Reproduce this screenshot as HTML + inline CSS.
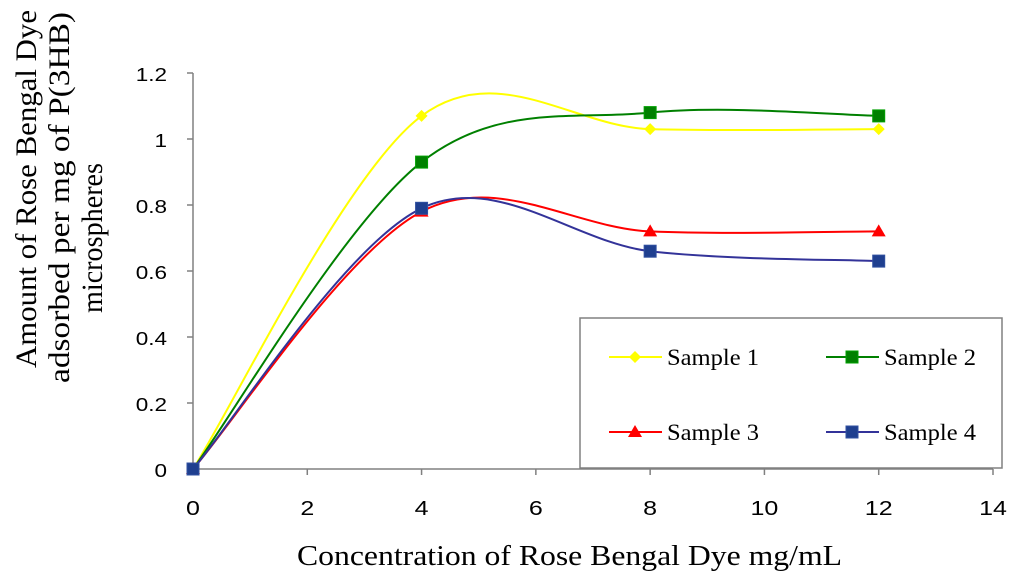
<!DOCTYPE html>
<html><head><meta charset="utf-8">
<style>
html,body{margin:0;padding:0;background:#fff;}
svg{display:block;}
</style></head>
<body>
<svg id="chart" width="1024" height="580" viewBox="0 0 1024 580" xmlns="http://www.w3.org/2000/svg"></svg>
<script>
const xValues = [0, 4, 8, 12];
const sample1 = [0, 1.07, 1.03, 1.03];
const sample2 = [0, 0.93, 1.08, 1.07];
const sample3 = [0, 0.78, 0.72, 0.72];
const sample4 = [0, 0.79, 0.66, 0.63];
const xTicks = [0, 2, 4, 6, 8, 10, 12, 14];
const yTicks = [0, 0.2, 0.4, 0.6, 0.8, 1, 1.2];
const seriesNames = ["Sample 1", "Sample 2", "Sample 3", "Sample 4"];

const NS = "http://www.w3.org/2000/svg";
const svg = document.getElementById("chart");
const X0 = 193, X1 = 993, Y0 = 469, Y1 = 73;
const sx = v => X0 + (v - 0) / 14 * (X1 - X0);
const sy = v => Y0 - v / 1.2 * (Y0 - Y1);
function el(tag, attrs, parent) {
  const e = document.createElementNS(NS, tag);
  for (const k in attrs) e.setAttribute(k, attrs[k]);
  (parent || svg).appendChild(e);
  return e;
}
function stretch(t, f) {
  const w = t.getComputedTextLength();
  t.setAttribute("textLength", w * f);
  t.setAttribute("lengthAdjust", "spacingAndGlyphs");
}
// axes
const ax = el("line", {x1: X0, y1: Y0, x2: X0, y2: Y1, stroke: "#808080", "stroke-width": 1.5});


const axx = el("line", {x1: X0, y1: Y0, x2: X1, y2: Y0, stroke: "#808080", "stroke-width": 1.5});


yTicks.forEach(t => {
  const y = sy(t);
  const tk = el("line", {x1: X0 - 6, y1: y, x2: X0, y2: y, stroke: "#808080", "stroke-width": 1.5});
  
  
  const tx = el("text", {x: 167, y: y + 8, "text-anchor": "end", "font-family": "Liberation Sans, sans-serif", "font-size": 18, fill: "#000"});
  tx.textContent = String(t);
  
  
  stretch(tx, 1.25);
});
xTicks.forEach(t => {
  const x = sx(t);
  const tk = el("line", {x1: x, y1: Y0, x2: x, y2: Y0 + 6, stroke: "#808080", "stroke-width": 1.5});
  
  
  const tx = el("text", {x: x, y: 515, "text-anchor": "middle", "font-family": "Liberation Sans, sans-serif", "font-size": 20, fill: "#000"});
  tx.textContent = String(t);
  
  
  stretch(tx, 1.25);
});
// titles
const xt = el("text", {x: 297, y: 565, "font-family": "Liberation Serif, serif", "font-size": 29, fill: "#000", textLength: 545, lengthAdjust: "spacingAndGlyphs"});
xt.textContent = "Concentration of Rose Bengal Dye mg/mL";


const ytl = [["Amount of Rose Bengal Dye", 36, 368, 358], ["adsorbed per mg of P(3HB)", 69, 383, 371], ["microspheres", 102, 313, 150]];
const yt = el("g", {});


ytl.forEach(([s, bx, by, len]) => {
  const t = el("text", {transform: `translate(${bx},${by}) rotate(-90)`, x: 0, y: 0, "font-family": "Liberation Serif, serif", "font-size": 30, fill: "#000", textLength: len, lengthAdjust: "spacingAndGlyphs"}, yt);
  t.textContent = s;
});
// smooth path
function smoothPath(xs, ys) {
  const p = xs.map((x, i) => [sx(x), sy(ys[i])]);
  let d = "M" + p[0][0] + "," + p[0][1];
  for (let i = 0; i < p.length - 1; i++) {
    const p0 = p[Math.max(0, i - 1)], p1 = p[i], p2 = p[i + 1], p3 = p[Math.min(p.length - 1, i + 2)];
    const c1 = [p1[0] + (p2[0] - p0[0]) / 6, p1[1] + (p2[1] - p0[1]) / 6];
    const c2 = [p2[0] - (p3[0] - p1[0]) / 6, p2[1] - (p3[1] - p1[1]) / 6];
    d += " C" + c1 + " " + c2 + " " + p2;
  }
  return d;
}
function marker(type, x, y, color, stroke, parent) {
  let m;
  if (type === "diamond") m = el("polygon", {points: `${x},${y-6} ${x+6},${y} ${x},${y+6} ${x-6},${y}`, fill: color}, parent);
  else if (type === "square") m = el("rect", {x: x - 6, y: y - 6, width: 12, height: 12, fill: color, stroke: stroke, "stroke-width": 1}, parent);
  else m = el("polygon", {points: `${x},${y-7} ${x+7},${y+5} ${x-7},${y+5}`, fill: color}, parent);
  return m;
}
const series = [
  {vals: sample1, color: "#ffff00", m: "diamond", mc: "#ffff00", ms: "none"},
  {vals: sample2, color: "#008000", m: "square", mc: "#008000", ms: "#00a000"},
  {vals: sample3, color: "#ff0000", m: "triangle", mc: "#ff0000", ms: "none"},
  {vals: sample4, color: "#333399", m: "square", mc: "#1f3f8f", ms: "#3050a0"}
];
series.forEach((s, k) => {
  const g = el("g", {});
  
  
  const path = el("path", {d: smoothPath(xValues, s.vals), fill: "none", stroke: s.color, "stroke-width": 2}, g);
  
  
  s.vals.forEach((v, i) => {
    const m = marker(s.m, sx(xValues[i]), sy(v), s.mc, s.ms, g);
    
    
  });
});
// legend
const lg = el("g", {});


el("rect", {x: 580, y: 318, width: 422, height: 150, fill: "#fff", stroke: "#808080", "stroke-width": 1.5}, lg);
const pos = [[609, 357], [826, 357], [609, 432], [826, 432]];
series.forEach((s, k) => {
  const [lx, ly] = pos[k];
  const e = el("g", {}, lg);
  
  
  el("line", {x1: lx, y1: ly, x2: lx + 53, y2: ly, stroke: s.color, "stroke-width": 2}, e);
  marker(s.m, lx + 26, ly, s.mc, s.ms, e);
  const t = el("text", {x: lx + 58, y: ly + 8, "font-family": "Liberation Serif, serif", "font-size": 23, fill: "#000", textLength: 92, lengthAdjust: "spacingAndGlyphs"}, e);
  t.textContent = seriesNames[k];
});
</script>
</body></html>
